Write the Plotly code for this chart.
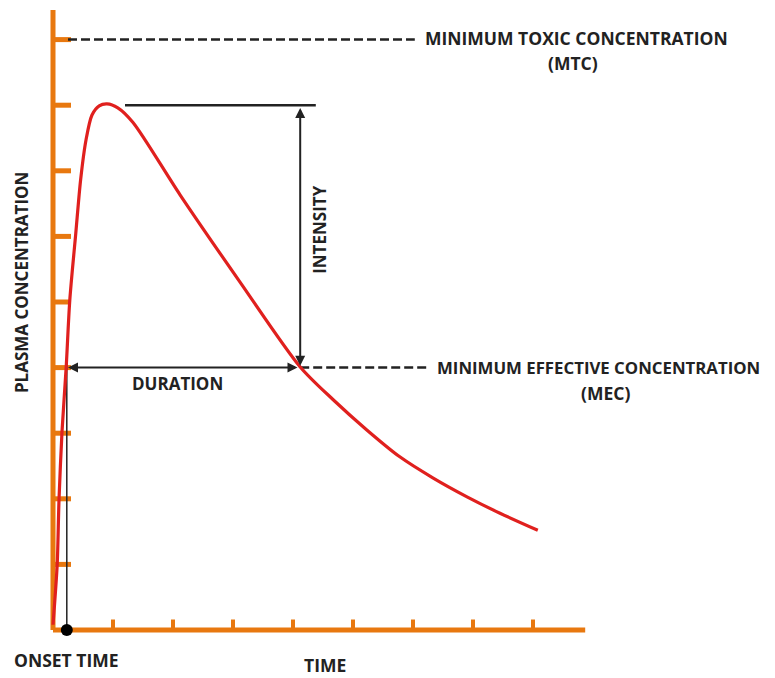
import plotly.graph_objects as go

# ---- data (time units along x, concentration units along y) ----
time = [0.00, 0.07, 0.10, 0.15, 0.22, 0.28, 0.38, 0.46, 0.55, 0.65, 0.77, 0.90,
        1.08, 1.33, 2.12, 3.12, 4.12, 4.67, 5.23, 5.78, 6.33, 6.90, 7.45, 8.08]
conc = [0.08, 1.00, 1.98, 3.02, 4.01, 5.03, 6.05, 6.86, 7.47, 7.85, 7.99, 8.02,
        7.96, 7.74, 6.63, 5.30, 4.01, 3.51, 3.05, 2.64, 2.32, 2.03, 1.78, 1.52]

y_ticks = [1, 2, 3, 4, 5, 6, 7, 8, 9]
x_ticks = [1, 2, 3, 4, 5, 6, 7, 8]
y_axis_top = 9.45
x_axis_end = 8.87

mtc = 9.0
mec = 4.0
peak = 8.0
onset_time = 0.23
mec_cross_time = 4.12

ORANGE = "#E8780F"
RED = "#E0201E"
INK = "#222222"
FONT = "Open Sans"

fig = go.Figure()

# axis lines
fig.add_trace(go.Scatter(x=[0, 0], y=[0, y_axis_top], mode="lines",
                         line=dict(color=ORANGE, width=5), hoverinfo="skip"))
fig.add_trace(go.Scatter(x=[0, x_axis_end], y=[0, 0], mode="lines",
                         line=dict(color=ORANGE, width=5), hoverinfo="skip"))
# y ticks
tx, ty = [], []
for k in y_ticks:
    tx += [0, 0.30, None]
    ty += [k, k, None]
fig.add_trace(go.Scatter(x=tx, y=ty, mode="lines",
                         line=dict(color=ORANGE, width=5), hoverinfo="skip"))
# x ticks
tx, ty = [], []
for k in x_ticks:
    tx += [k, k, None]
    ty += [0, 0.16, None]
fig.add_trace(go.Scatter(x=tx, y=ty, mode="lines",
                         line=dict(color=ORANGE, width=4), hoverinfo="skip"))

# MTC / MEC dashed references
fig.add_trace(go.Scatter(x=[0.25, 6.03], y=[mtc, mtc], mode="lines",
                         line=dict(color=INK, width=2.5, dash="9px,4px"), hoverinfo="skip"))
fig.add_trace(go.Scatter(x=[mec_cross_time, 6.28], y=[mec, mec], mode="lines",
                         line=dict(color=INK, width=2.5, dash="9px,4px"), hoverinfo="skip"))

# peak (intensity) horizontal line
fig.add_trace(go.Scatter(x=[1.2, 4.38], y=[peak, peak], mode="lines",
                         line=dict(color=INK, width=2.5), hoverinfo="skip"))

# onset vertical line
fig.add_trace(go.Scatter(x=[onset_time, onset_time], y=[0, 4.19], mode="lines",
                         line=dict(color=INK, width=1.5), hoverinfo="skip"))

# concentration curve
fig.add_trace(go.Scatter(x=time, y=conc, mode="lines",
                         line=dict(color=RED, width=3.2, shape="spline", smoothing=0.8),
                         hoverinfo="skip"))

# onset dot
fig.add_trace(go.Scatter(x=[onset_time], y=[0], mode="markers",
                         marker=dict(color="black", size=12), hoverinfo="skip"))

annotations = [
    # duration arrow
    dict(x=onset_time + 0.02, y=mec, ax=mec_cross_time - 0.02, ay=mec,
         xref="x", yref="y", axref="x", ayref="y", text="",
         showarrow=True, arrowhead=2, arrowsize=1, arrowwidth=2,
         arrowside="end+start", arrowcolor=INK),
    # intensity arrow
    dict(x=mec_cross_time, y=mec + 0.03, ax=mec_cross_time, ay=peak - 0.02,
         xref="x", yref="y", axref="x", ayref="y", text="",
         showarrow=True, arrowhead=2, arrowsize=1, arrowwidth=2,
         arrowside="end+start", arrowcolor=INK),
]

def label(text, x, y, size=17.5, xanchor="center", angle=0):
    return dict(x=x, y=y, xref="x", yref="y", text=text, showarrow=False,
                xanchor=xanchor, yanchor="middle", textangle=angle,
                font=dict(family=FONT, size=size, color=INK, weight="bold"))

annotations += [
    label("MINIMUM TOXIC CONCENTRATION", 6.17, 9.02, xanchor="left"),
    label("(MTC)", 8.67, 8.64),
    label("MINIMUM EFFECTIVE CONCENTRATION", 6.37, 4.0, size=16.8, xanchor="left"),
    label("(MEC)", 9.2, 3.62),
    label("DURATION", 2.08, 3.76, size=17),
    label("INTENSITY", 4.45, 6.1, size=17, angle=-90),
    label("PLASMA CONCENTRATION", -0.52, 5.3, size=17, angle=-90),
    label("ONSET TIME", 0.22, -0.46),
    label("TIME", 4.53, -0.53),
]

# page has an 8px body margin: size the figure to fit the window and
# set ranges so that the data land at the same page pixels as the reference
PAD = 8
fig.update_layout(
    width=775 - PAD, height=678 - PAD,
    margin=dict(l=0, r=0, t=0, b=0),
    paper_bgcolor="white", plot_bgcolor="white",
    showlegend=False,
    xaxis=dict(range=[(PAD - 53) / 60, 722 / 60], visible=False, fixedrange=True),
    yaxis=dict(range=[-48 / 65.6, (630 - PAD) / 65.6], visible=False, fixedrange=True),
    annotations=annotations,
)

fig.write_html("out.html")
